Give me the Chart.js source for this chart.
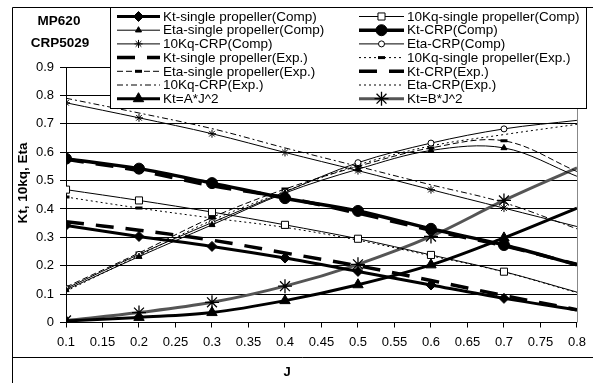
<!DOCTYPE html>
<html>
<head>
<meta charset="utf-8">
<script src="https://cdn.jsdelivr.net/npm/chart.js@4.4.1/dist/chart.umd.min.js"></script>
<style>
  html, body { margin: 0; padding: 0; background: #fff; }
  #wrap { width: 593px; height: 383px; position: relative; }
</style>
</head>
<body>
<div id="wrap"><canvas id="myChart"></canvas></div>
<script>
// data (J = advance ratio)
const jValues = [0.1, 0.2, 0.3, 0.4, 0.5, 0.6, 0.7, 0.8];
const xTicks = [0.1, 0.15, 0.2, 0.25, 0.3, 0.35, 0.4, 0.45, 0.5, 0.55, 0.6, 0.65, 0.7, 0.75, 0.8];
const xTickLabels = ['0.1', '0.15', '0.2', '0.25', '0.3', '0.35', '0.4', '0.45', '0.5', '0.55', '0.6', '0.65', '0.7', '0.75', '0.8'];
const yTicks = [0, 0.1, 0.2, 0.3, 0.4, 0.5, 0.6, 0.7, 0.8, 0.9];
const yTickLabels = ['0', '0.1', '0.2', '0.3', '0.4', '0.5', '0.6', '0.7', '0.8', '0.9'];

const ktSingleComp   = [0.342, 0.303, 0.268, 0.227, 0.180, 0.132, 0.085, 0.044];
const kq10SingleComp = [0.468, 0.430, 0.389, 0.344, 0.295, 0.238, 0.179, 0.107];
const etaSingleComp  = [0.115, 0.232, 0.344, 0.456, 0.540, 0.606, 0.615, 0.515];
const ktCrpComp      = [0.577, 0.542, 0.491, 0.438, 0.393, 0.330, 0.273, 0.203];
const kq10CrpComp    = [0.774, 0.721, 0.665, 0.599, 0.535, 0.468, 0.403, 0.338];
const etaCrpComp     = [0.120, 0.240, 0.352, 0.460, 0.563, 0.632, 0.682, 0.712];
const ktSingleExp    = [0.355, 0.325, 0.290, 0.245, 0.200, 0.148, 0.095, 0.045];
const kq10SingleExp  = [0.442, 0.403, 0.368, 0.335, 0.290, 0.235, 0.178, 0.105];
const etaSingleExp   = [0.125, 0.245, 0.370, 0.470, 0.550, 0.615, 0.640, 0.532];
const ktCrpExp       = [0.575, 0.535, 0.482, 0.440, 0.385, 0.325, 0.270, 0.205];
const kq10CrpExp     = [0.790, 0.738, 0.683, 0.615, 0.550, 0.485, 0.422, 0.330];
const etaCrpExp      = [0.110, 0.236, 0.360, 0.462, 0.555, 0.622, 0.662, 0.698];
const ktA            = [0.005, 0.018, 0.035, 0.077, 0.133, 0.203, 0.298, 0.403];
const ktB            = [0.007, 0.035, 0.071, 0.128, 0.205, 0.303, 0.430, 0.545];

const FONT = "'Liberation Sans', Arial, sans-serif";

function pts(arr) {
    return jValues.map((j, i) => ({ x: j, y: arr[i] }));
}
// no marker on the last point (it sits on the plot edge)
function radii(r) {
    return jValues.map(j => (j < 0.8 ? r : 0));
}

function series(label, arr, opt) {
    return Object.assign({
        label: label,
        data: pts(arr),
        borderColor: '#000',
        backgroundColor: '#000',
        borderWidth: 1,
        borderDash: [],
        pointStyle: false,
        pointRadius: 0,
        pointBorderWidth: 1,
        pointBorderColor: '#000',
        pointBackgroundColor: '#000',
        tension: 0.35,
        fill: false
    }, opt);
}

const datasets = [
    series('Kt-single propeller(Comp)', ktSingleComp, { borderWidth: 3, pointStyle: 'rectRot', pointRadius: radii(5) }),
    series('10Kq-single propeller(Comp)', kq10SingleComp, { pointStyle: 'rect', pointRadius: radii(5), pointBackgroundColor: '#fff' }),
    series('Eta-single propeller(Comp)', etaSingleComp, { pointStyle: 'triangle', pointRadius: radii(3.5) }),
    series('Kt-CRP(Comp)', ktCrpComp, { borderWidth: 3.5, pointStyle: 'circle', pointRadius: radii(5.5) }),
    series('10Kq-CRP(Comp)', kq10CrpComp, { pointStyle: 'star', pointRadius: radii(4) }),
    series('Eta-CRP(Comp)', etaCrpComp, { pointStyle: 'circle', pointRadius: radii(3), pointBackgroundColor: '#fff' }),
    series('Kt-single propeller(Exp.)', ktSingleExp, { borderWidth: 3.5, borderDash: [18, 12] }),
    series('10Kq-single propeller(Exp.)', kq10SingleExp, { borderDash: [2, 3], pointStyle: 'line', pointRadius: radii(3.5), pointBorderWidth: 3 }),
    series('Eta-single propeller(Exp.)', etaSingleExp, { borderDash: [6, 3], pointStyle: 'line', pointRadius: radii(3.5), pointBorderWidth: 3 }),
    series('Kt-CRP(Exp.)', ktCrpExp, { borderWidth: 3.5, borderDash: [18, 12] }),
    series('10Kq-CRP(Exp.)', kq10CrpExp, { borderDash: [6, 3, 2, 3] }),
    series('Eta-CRP(Exp.)', etaCrpExp, { borderDash: [2, 3] }),
    series('Kt=A*J^2', ktA, { borderWidth: 3, pointStyle: 'triangle', pointRadius: radii(6) }),
    series('Kt=B*J^2', ktB, { borderWidth: 3, borderColor: '#555', pointStyle: 'star', pointRadius: radii(7), pointBorderWidth: 1.3 })
];

// legend box, frame and free texts
const decoPlugin = {
    id: 'deco',
    afterDraw(chart) {
        const ctx = chart.ctx;
        const area = chart.chartArea;
        ctx.save();

        // plot right edge
        ctx.strokeStyle = '#888';
        ctx.lineWidth = 1;
        ctx.beginPath();
        ctx.moveTo(577.5, area.top);
        ctx.lineTo(577.5, area.bottom);
        ctx.stroke();

        // outer frame
        ctx.strokeStyle = '#000';
        ctx.beginPath();
        ctx.moveTo(12.5, 383);
        ctx.lineTo(12.5, 7.5);
        ctx.lineTo(593, 7.5);
        ctx.moveTo(12.5, 357.5);
        ctx.lineTo(593, 357.5);
        ctx.stroke();

        // titles
        ctx.fillStyle = '#000';
        ctx.font = 'bold 13.5px ' + FONT;
        ctx.textAlign = 'center';
        ctx.textBaseline = 'middle';
        ctx.fillText('MP620', 59, 21);
        ctx.fillText('CRP5029', 60, 43);
        ctx.font = 'bold 13px ' + FONT;
        ctx.fillText('J', 287, 372);

        ctx.save();
        ctx.translate(23, 183);
        ctx.rotate(-Math.PI / 2);
        ctx.font = 'bold 13.5px ' + FONT;
        ctx.fillText('Kt, 10kq, Eta', 0, 0);
        ctx.restore();

        // legend
        ctx.fillStyle = '#fff';
        ctx.fillRect(110.5, 7.5, 476, 101);
        ctx.strokeStyle = '#000';
        ctx.strokeRect(110.5, 7.5, 476, 101);

        chart.data.datasets.forEach((ds, i) => {
            const col = i % 2;
            const row = Math.floor(i / 2);
            const y = 16.5 + row * 13.7;
            const x0 = col ? 359 : 117;
            const x1 = col ? 404 : 160;
            const tx = col ? 407 : 163;

            ctx.strokeStyle = ds.borderColor;
            ctx.lineWidth = ds.borderWidth;
            ctx.setLineDash(ds.borderDash);
            ctx.beginPath();
            ctx.moveTo(x0, y);
            ctx.lineTo(x1, y);
            ctx.stroke();
            ctx.setLineDash([]);

            if (ds.pointStyle) {
                ctx.fillStyle = ds.pointBackgroundColor;
                ctx.strokeStyle = ds.pointBorderColor;
                ctx.lineWidth = ds.pointBorderWidth;
                Chart.helpers.drawPoint(ctx, {
                    pointStyle: ds.pointStyle,
                    radius: ds.pointRadius[0],
                    borderWidth: ds.pointBorderWidth,
                    rotation: 0
                }, (x0 + x1) / 2, y);
            }

            ctx.fillStyle = '#000';
            ctx.font = '13.5px ' + FONT;
            ctx.textAlign = 'left';
            ctx.textBaseline = 'middle';
            ctx.fillText(ds.label, tx, y + 0.5);
        });
        ctx.restore();
    }
};

document.addEventListener('DOMContentLoaded', function () {
    const ctx = document.getElementById('myChart').getContext('2d');
    new Chart(ctx, {
        type: 'line',
        data: { datasets: datasets },
        options: {
            responsive: true,
            maintainAspectRatio: false,
            animation: false,
            layout: { padding: { left: 12, top: 67, right: 16, bottom: 0 } },
            plugins: {
                legend: { display: false },
                tooltip: { enabled: false }
            },
            scales: {
                x: {
                    type: 'linear',
                    min: 0.1,
                    max: 0.8,
                    afterBuildTicks: s => { s.ticks = xTicks.map(v => ({ value: v })); },
                    afterFit: s => { s.height = 60.5; },
                    ticks: {
                        autoSkip: false,
                        maxRotation: 0,
                        padding: 7,
                        color: '#000',
                        font: { family: FONT, size: 13 },
                        callback: (v, i) => xTickLabels[i]
                    },
                    grid: { drawOnChartArea: false, drawTicks: true, tickLength: 5, color: '#000' },
                    border: { color: '#000', width: 1 }
                },
                y: {
                    min: 0,
                    max: 0.9,
                    afterBuildTicks: s => { s.ticks = yTicks.map(v => ({ value: v })); },
                    afterFit: s => { s.width = 54; },
                    ticks: {
                        padding: 6,
                        color: '#000',
                        font: { family: FONT, size: 13 },
                        callback: (v, i) => yTickLabels[i]
                    },
                    grid: { color: '#000', lineWidth: 1, tickLength: 6 },
                    border: { color: '#000', width: 1 }
                }
            }
        },
        plugins: [decoPlugin]
    });
});
</script>
</body>
</html>
